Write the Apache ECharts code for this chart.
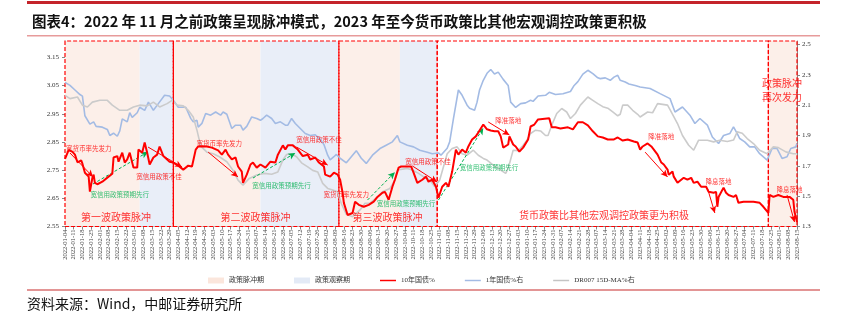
<!DOCTYPE html>
<html><head><meta charset="utf-8">
<script src="https://cdn.jsdelivr.net/npm/echarts@6/dist/echarts.min.js"></script>
<style>html,body{margin:0;padding:0;background:#fff}#c{width:842px;height:323px}</style>
</head><body><div id="c"></div><script>
// x values are days since 2022-01-04
const xTickLabels = ['2022-01-04','2022-01-11','2022-01-18','2022-01-25','2022-02-01','2022-02-08','2022-02-15','2022-02-22','2022-03-01','2022-03-08','2022-03-15','2022-03-22','2022-03-29','2022-04-05','2022-04-12','2022-04-19','2022-04-26','2022-05-03','2022-05-10','2022-05-17','2022-05-24','2022-05-31','2022-06-07','2022-06-14','2022-06-21','2022-06-28','2022-07-05','2022-07-12','2022-07-19','2022-07-26','2022-08-02','2022-08-09','2022-08-16','2022-08-23','2022-08-30','2022-09-06','2022-09-13','2022-09-20','2022-09-27','2022-10-04','2022-10-11','2022-10-18','2022-10-25','2022-11-01','2022-11-08','2022-11-15','2022-11-22','2022-11-29','2022-12-06','2022-12-13','2022-12-20','2022-12-27','2023-01-03','2023-01-10','2023-01-17','2023-01-24','2023-01-31','2023-02-07','2023-02-14','2023-02-21','2023-02-28','2023-03-07','2023-03-14','2023-03-21','2023-03-28','2023-04-04','2023-04-11','2023-04-18','2023-04-25','2023-05-02','2023-05-09','2023-05-16','2023-05-23','2023-05-30','2023-06-06','2023-06-13','2023-06-20','2023-06-27','2023-07-04','2023-07-11','2023-07-18','2023-07-25','2023-08-01','2023-08-08','2023-08-15'];

const leftTicks = [2.55,2.65,2.75,2.85,2.95,3.05,3.15];
const rightTicks = [1.3,1.5,1.7,1.9,2.1,2.3,2.5];

const tenYDay = [0,3,6,8,10,13,14,16,19,20,22,23,24,26,30,35,38,39,42,43,46,48,50,52,55,58,59,62,64,66,68,71,74,76,79,84,87,91,95,99,102,105,107,110,114,118,123,126,129,131,134,137,139,142,143,146,149,151,154,157,161,165,169,171,175,177,179,183,187,191,195,197,201,204,208,209,213,216,219,221,223,224,227,231,233,236,240,244,248,251,255,257,260,263,265,268,270,278,280,283,287,290,292,295,298,300,303,306,308,311,314,316,319,322,324,327,330,332,336,339,342,345,348,350,352,356,357,360,362,365,368,372,374,377,380,381,389,391,394,398,404,408,412,416,420,424,428,432,436,441,444,448,452,457,460,462,464,468,471,473,476,479,481,484,485,488,489,492,495,497,500,503,505,508,511,515,517,521,523,524,525,529,531,533,537,539,541,545,549,553,558,561,565,566,569,573,577,582,585,586,588];
const tenYVal = [2.79,2.822,2.815,2.805,2.778,2.785,2.773,2.741,2.727,2.674,2.723,2.734,2.705,2.70,2.709,2.727,2.737,2.795,2.80,2.78,2.812,2.777,2.788,2.812,2.759,2.759,2.823,2.812,2.848,2.812,2.77,2.795,2.805,2.834,2.80,2.78,2.777,2.766,2.752,2.766,2.763,2.823,2.834,2.835,2.834,2.83,2.82,2.805,2.823,2.805,2.788,2.795,2.763,2.745,2.705,2.734,2.77,2.777,2.759,2.77,2.759,2.78,2.777,2.805,2.838,2.823,2.838,2.838,2.823,2.80,2.805,2.788,2.795,2.777,2.763,2.734,2.727,2.741,2.734,2.716,2.67,2.634,2.591,2.598,2.638,2.627,2.62,2.627,2.638,2.655,2.67,2.673,2.645,2.691,2.716,2.759,2.763,2.763,2.741,2.705,2.716,2.727,2.709,2.716,2.691,2.652,2.691,2.705,2.691,2.745,2.823,2.805,2.823,2.812,2.834,2.859,2.87,2.884,2.912,2.895,2.891,2.888,2.888,2.87,2.83,2.841,2.87,2.841,2.834,2.816,2.83,2.859,2.905,2.912,2.93,2.934,2.934,2.902,2.902,2.898,2.902,2.895,2.92,2.92,2.909,2.888,2.87,2.866,2.859,2.859,2.866,2.855,2.859,2.852,2.848,2.823,2.834,2.845,2.834,2.823,2.805,2.777,2.77,2.752,2.734,2.745,2.727,2.705,2.716,2.723,2.716,2.723,2.705,2.709,2.691,2.691,2.673,2.67,2.673,2.62,2.655,2.688,2.67,2.662,2.655,2.662,2.634,2.638,2.638,2.638,2.634,2.62,2.598,2.662,2.655,2.662,2.655,2.655,2.645,2.602,2.566];

const oneYDay = [0,4,8,12,14,16,20,23,25,30,34,36,39,42,44,46,50,52,54,58,60,64,67,71,75,80,84,87,91,97,101,103,106,107,110,113,117,121,125,127,130,134,137,141,143,146,150,154,157,159,162,166,169,173,177,179,182,185,189,193,197,201,205,208,211,213,216,218,221,226,230,234,238,242,247,253,258,263,267,269,275,280,285,291,295,300,302,307,309,312,316,319,323,325,329,331,333,336,339,342,343,345,348,352,356,358,362,366,370,374,376,380,386,389,394,400,406,409,412,416,420,424,428,430,434,438,441,444,446,450,453,458,462,470,478,486,490,496,502,506,510,516,520,525,529,534,537,540,542,546,550,554,558,564,568,572,576,580,583,587,588];
const oneYVal = [2.25,2.23,2.2,2.17,2.16,2.03,1.975,1.99,1.96,1.955,1.94,1.9,1.915,1.895,1.93,2.01,1.99,2.05,2.02,2.05,2.086,2.066,2.12,2.066,2.11,2.165,2.16,2.132,2.086,2.086,2.013,1.99,2.0,1.955,1.98,2.045,2.034,2.055,2.034,2.055,2.04,1.946,1.968,1.968,1.935,1.96,2.022,2.012,2.0,2.012,2.034,2.012,1.979,1.99,1.968,1.968,2.012,1.979,1.946,1.913,1.90,1.905,1.875,1.84,1.77,1.74,1.76,1.775,1.75,1.72,1.76,1.80,1.75,1.716,1.77,1.814,1.836,1.858,1.90,1.858,1.836,1.825,1.803,1.79,1.78,1.785,1.77,1.816,1.858,2.01,2.2,2.165,2.1,2.08,2.066,2.12,2.2,2.264,2.31,2.335,2.34,2.305,2.318,2.27,2.23,2.12,2.085,2.11,2.115,2.132,2.125,2.16,2.165,2.185,2.17,2.175,2.19,2.23,2.255,2.305,2.33,2.308,2.28,2.275,2.28,2.264,2.285,2.297,2.264,2.253,2.24,2.23,2.22,2.21,2.176,2.143,2.055,2.088,2.034,1.979,2.012,1.968,1.89,1.847,1.9,1.913,1.957,1.913,1.88,1.858,1.825,1.825,1.78,1.738,1.814,1.814,1.749,1.76,1.814,1.825,1.847];

const drDay = [0,4,10,14,18,22,28,34,38,44,50,55,60,66,71,76,82,86,90,95,99,103,106,109,114,119,124,130,135,139,143,148,154,160,166,171,175,178,182,186,190,195,199,203,207,211,215,219,222,226,231,237,241,245,251,255,261,265,267,275,279,284,288,293,297,301,307,311,315,319,323,328,332,336,339,344,350,354,356,360,364,367,371,374,378,382,386,388,391,395,399,403,406,410,414,420,424,428,432,436,440,444,446,448,452,456,460,462,468,472,476,484,486,492,496,501,505,509,516,521,526,532,537,540,544,548,553,558,564,569,573,579,585,588];
const drVal = [2.165,2.143,2.154,2.1,2.088,2.12,2.132,2.132,2.1,2.066,2.066,2.088,2.1,2.095,2.12,2.088,2.11,2.132,2.1,2.095,2.066,2.022,1.935,1.83,1.79,1.78,1.76,1.727,1.67,1.606,1.573,1.617,1.639,1.65,1.645,1.66,1.738,1.775,1.78,1.76,1.72,1.693,1.67,1.66,1.584,1.551,1.54,1.529,1.45,1.38,1.365,1.409,1.453,1.455,1.496,1.529,1.551,1.606,1.672,1.683,1.672,1.65,1.628,1.606,1.562,1.606,1.78,1.814,1.825,1.78,1.77,1.803,1.77,1.749,1.738,1.705,1.672,1.65,1.683,1.803,1.80,1.825,1.869,1.913,1.935,1.93,1.9,1.9,1.968,2.045,2.078,2.055,2.012,2.045,2.1,2.154,2.132,2.11,2.09,2.08,2.055,2.03,2.04,2.1,2.1,2.066,2.04,2.022,2.055,2.05,2.11,2.1,2.07,1.979,1.9,1.836,1.803,1.869,1.869,1.858,1.869,1.86,1.87,1.924,1.915,1.88,1.847,1.803,1.78,1.825,1.82,1.792,1.78,1.78];

const pulsePeriods = [[0,60],[87,157],[220,269],[565,588]];
const watchPeriods = [[60,87],[157,220],[269,299]];
const phaseBoxes = [[0,87],[87,220],[220,299],[299,565],[565,588]];

// annotations: text, day, 10Y-axis value, kind
const notes = [
  ['宽货币率先发力',19,2.828,'r'],['宽信用政策预期先行',44,2.665,'g'],['宽信用政策不佳',75.5,2.729,'r'],
  ['宽货币率先发力',124,2.846,'r'],['宽信用政策预期先行',174,2.694,'g'],['宽信用政策不佳',204,2.857,'r'],
  ['宽货币率先发力',226,2.665,'r'],['宽信用政策预期先行',274,2.63,'g'],['宽信用政策不佳',291.5,2.782,'r'],
  ['宽信用政策预期先行',340.5,2.758,'g'],['降准落地',356,2.925,'r'],['降准落地',479,2.868,'r'],
  ['降息落地',525,2.708,'r'],['降息落地',582,2.68,'r'],
  ['第一波政策脉冲',41,2.584,'R'],['第二波政策脉冲',153,2.584,'R'],['第三波政策脉冲',259,2.584,'R'],
  ['货币政策比其他宏观调控政策更为积极',433,2.591,'R'],['政策脉冲\n再次发力',576,3.035,'R']
];
const arrows = [
  [4,2.811,22.5,2.726,'r'],[22.5,2.701,66.7,2.815,'g'],[66.7,2.832,94,2.761,'r'],
  [115,2.814,139,2.726,'r'],[151,2.722,185,2.811,'g'],[186,2.832,211,2.768,'r'],
  [243,2.644,265,2.743,'g'],[279,2.765,299,2.708,'r'],[300,2.644,336,2.9,'g'],
  [340,2.921,357,2.875,'r'],[466,2.814,484,2.726,'r'],[516,2.687,522,2.598,'r'],[580,2.662,586,2.566,'r']
];

const RED = '#ff0000', GREEN = '#00b050';
const CJK = "'Noto Sans CJK SC', sans-serif";
const SERIF = "'Liberation Serif', 'Noto Sans CJK SC', serif";
const LINE_ICON = 'path://M0,0 L24,0 L24,2.2 L0,2.2 Z';
const zip = (a, b) => a.map((d, i) => [d, b[i]]);

const chart = echarts.init(document.getElementById('c'));
chart.setOption({
  animation: false,
  backgroundColor: '#fff',
  title: {
    text: '图表4：2022 年 11 月之前政策呈现脉冲模式，2023 年至今货币政策比其他宏观调控政策更积极',
    left: 27, top: 9,
    textStyle: {fontSize: 14.5, fontWeight: 'bold', color: '#111', fontFamily: CJK}
  },
  graphic: [
    {type: 'rect', shape: {x: 27, y: 1, width: 793, height: 3}, style: {fill: '#c4232a'}},
    {type: 'rect', shape: {x: 27, y: 35, width: 793, height: 1.5}, style: {fill: '#e79b9b'}},
    {type: 'rect', shape: {x: 27, y: 289, width: 793, height: 2}, style: {fill: '#e39595'}},
    {type: 'text', left: 27, top: 297, style: {text: '资料来源：Wind，中邮证券研究所', fontSize: 14, fill: '#111', fontFamily: CJK}}
  ],
  grid: {left: 65, right: 45, top: 41, bottom: 96.5},
  legend: {
    left: 203, top: 272, itemGap: 30, itemWidth: 16, itemHeight: 6,
    textStyle: {fontSize: 7, color: '#333', fontFamily: SERIF},
    data: [
      {name: '政策脉冲期', icon: 'rect'}, {name: '政策观察期', icon: 'rect'},
      {name: '10年国债%', icon: LINE_ICON}, {name: '1年国债%右', icon: LINE_ICON}, {name: 'DR007 15D-MA%右', icon: LINE_ICON}
    ]
  },
  xAxis: {
    type: 'value', min: 0, max: 588, interval: 7,
    splitLine: {show: false},
    axisLine: {lineStyle: {color: '#888'}},
    axisTick: {length: 3, lineStyle: {color: '#888'}},
    axisLabel: {
      rotate: 90, fontSize: 6.5, color: '#444', margin: 3, fontFamily: SERIF,
      formatter: v => (v % 7 === 0 ? (xTickLabels[v / 7] || '') : '')
    }
  },
  yAxis: [
    {
      type: 'value', min: 2.55, max: 3.2085, splitLine: {show: false},
      axisLine: {show: true, lineStyle: {color: '#888'}},
      axisTick: {show: true, length: 3, customValues: leftTicks, lineStyle: {color: '#888'}},
      axisLabel: {customValues: leftTicks, formatter: v => v.toFixed(2), fontSize: 7, color: '#333', fontFamily: SERIF, margin: 6}
    },
    {
      type: 'value', min: 1.3, max: 2.523, splitLine: {show: false},
      axisLine: {show: true, lineStyle: {color: '#888'}},
      axisTick: {show: true, length: 3, customValues: rightTicks, lineStyle: {color: '#888'}},
      axisLabel: {customValues: rightTicks, formatter: v => v.toFixed(1), fontSize: 7, color: '#333', fontFamily: SERIF, margin: 5}
    }
  ],
  series: [
    {
      name: '政策脉冲期', type: 'line', data: [], z: 1,
      itemStyle: {color: '#fbe6dc'}, lineStyle: {color: '#fbe6dc'},
      markArea: {silent: true, itemStyle: {color: '#fcefe9'}, data: pulsePeriods.map(p => [{xAxis: p[0]}, {xAxis: p[1]}])}
    },
    {
      name: '政策观察期', type: 'line', data: [], z: 1,
      itemStyle: {color: '#e3eaf6'}, lineStyle: {color: '#e3eaf6'},
      markArea: {silent: true, itemStyle: {color: '#e9eef8'}, data: watchPeriods.map(p => [{xAxis: p[0]}, {xAxis: p[1]}])}
    },
    {
      name: '1年国债%右', type: 'line', yAxisIndex: 1, data: zip(oneYDay, oneYVal), showSymbol: false, symbol: 'none',
      lineStyle: {color: '#a3bbe4', width: 1.6}, itemStyle: {color: '#a3bbe4'}, z: 3
    },
    {
      name: 'DR007 15D-MA%右', type: 'line', yAxisIndex: 1, data: zip(drDay, drVal), showSymbol: false, symbol: 'none',
      lineStyle: {color: '#cbcbcb', width: 1.6}, itemStyle: {color: '#c4c4c4'}, z: 3
    },
    {
      name: '10年国债%', type: 'line', yAxisIndex: 0, data: zip(tenYDay, tenYVal), showSymbol: false, symbol: 'none',
      lineStyle: {color: RED, width: 2}, itemStyle: {color: RED}, z: 5
    },
    {
      name: 'annotations', type: 'scatter', yAxisIndex: 0, symbolSize: 0, silent: true, z: 6, clip: false,
      data: notes.map(n => ({
        value: [n[1], n[2]],
        label: {
          show: true, position: 'inside', formatter: n[0],
          color: n[3] === 'g' ? GREEN : RED,
          fontSize: n[3] === 'R' ? 10 : 6.5,
          lineHeight: n[3] === 'R' ? 14 : 8,
          fontFamily: CJK
        }
      })),
      markLine: {
        silent: true, symbol: ['none', 'arrow'], symbolSize: [5, 7], label: {show: false},
        data: arrows.map(a => [
          {coord: [a[0], a[1]], lineStyle: {color: a[4] === 'g' ? GREEN : RED, width: 1, type: a[4] === 'g' ? [3, 2] : 'solid'}},
          {coord: [a[2], a[3]]}
        ])
      }
    },
    {
      name: 'boxes', type: 'line', data: [], z: 7,
      markArea: {
        silent: true,
        itemStyle: {color: 'rgba(0,0,0,0)', borderColor: RED, borderWidth: 1.2, borderType: [4, 2]},
        data: phaseBoxes.map(p => [{xAxis: p[0]}, {xAxis: p[1]}])
      },
      markLine: {silent: true, symbol: 'none', label: {show: false}, lineStyle: {color: RED, width: 1, type: 'solid'}, data: [{xAxis: 87}]}
    }
  ]
});
</script></body></html>
